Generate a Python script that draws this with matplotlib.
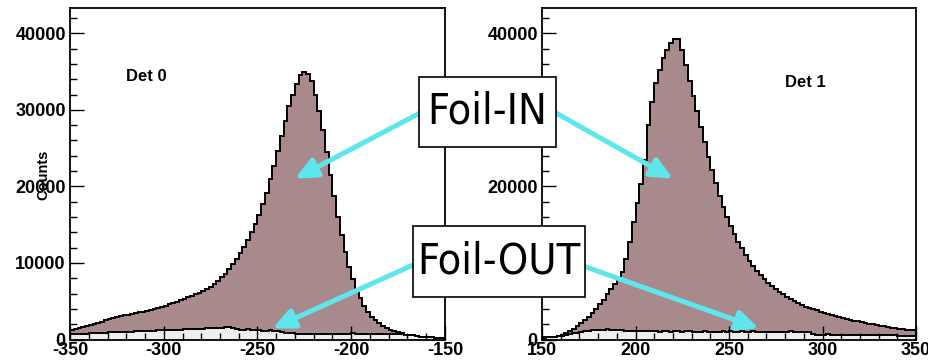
import numpy as np
import matplotlib.pyplot as plt
from matplotlib.patches import Rectangle
from matplotlib.ticker import MultipleLocator

# counts per 2-unit bin, Det 0 covers -350..-150, Det 1 covers 150..350
det0_in = [1300, 1400, 1500, 1650, 1800, 1950, 2050, 2200, 2350, 2500,
           2650, 2800, 2900, 3050, 3150, 3250, 3350, 3450, 3550, 3650,
           3750, 3850, 4000, 4150, 4250, 4400, 4600, 4750, 4950, 5150,
           5300, 5500, 5700, 5900, 6100, 6350, 6600, 6900, 7250, 7650,
           8100, 8600, 9200, 9800, 10500, 11300, 12100, 13000, 14000, 15100,
           16300, 17700, 19200, 20900, 22700, 24600, 26600, 28600, 30500, 32000,
           33400, 34500, 35000, 34700, 33700, 32000, 29800, 27300, 24500, 21500,
           18700, 16000, 13600, 11400, 9500, 7900, 6600, 5400, 4400, 3600,
           3000, 2500, 2100, 1800, 1500, 1300, 1100, 950, 800, 650,
           550, 450, 400, 350, 300, 280, 260, 240, 220, 200]
det0_out = [700, 720, 740, 760, 780, 800, 820, 850, 870, 900,
            920, 940, 960, 980, 1000, 1020, 1040, 1060, 1080, 1100,
            1120, 1140, 1160, 1180, 1200, 1220, 1240, 1260, 1280, 1300,
            1320, 1340, 1360, 1380, 1400, 1420, 1450, 1480, 1500, 1520,
            1550, 1580, 1600, 1500, 1400, 1300, 1250, 1350, 1250, 1200,
            1250, 1150, 1100, 1200, 1100, 1050, 950, 900, 850, 800,
            750, 750, 750, 750, 750, 750, 750, 750, 750, 750,
            750, 720, 780, 730, 700, 800, 720, 700, 750, 720,
            720, 700, 720, 700, 700, 680, 700, 680, 660, 650,
            600, 550, 450, 350, 300, 300, 280, 260, 250, 240]
det1_in = [300, 300, 320, 350, 450, 600, 850, 1100, 1400, 1750,
           2100, 2500, 2950, 3450, 4000, 4600, 5200, 5900, 6600, 7300,
           8000, 8800, 10500, 12800, 15300, 17800, 20300, 23500, 28000, 31000,
           33500, 35200, 36800, 37800, 38700, 39300, 39300, 37800, 35800, 33700,
           31800, 29800, 27800, 25800, 23900, 22100, 20400, 18800, 17300, 16000,
           14800, 13800, 12800, 11900, 11100, 10300, 9600, 9000, 8400, 7900,
           7400, 7000, 6600, 6200, 5900, 5600, 5300, 5000, 4750, 4500,
           4300, 4100, 3950, 3800, 3650, 3500, 3380, 3250, 3120, 3000,
           2850, 2720, 2600, 2480, 2380, 2280, 2180, 2080, 1980, 1880,
           1800, 1720, 1640, 1560, 1480, 1420, 1360, 1300, 1250, 1200]
det1_out = [250, 280, 300, 350, 400, 500, 600, 700, 800, 900,
            1000, 1100, 1150, 1200, 1250, 1300, 1300, 1320, 1300, 1280,
            1250, 1200, 1150, 1100, 1080, 1050, 1050, 1080, 1050, 1050,
            1050, 1000, 1050, 1050, 1000, 1050, 1050, 1000, 1050, 1050,
            1000, 1000, 1000, 1050, 1000, 1000, 1000, 1000, 1050, 1000,
            1050, 1000, 1000, 1050, 1000, 1000, 1050, 1000, 1000, 1000,
            1000, 1000, 1000, 1000, 1000, 1000, 1050, 1000, 1000, 1000,
            950, 950, 700, 650, 650, 650, 700, 650, 650, 650,
            650, 600, 650, 650, 600, 650, 650, 600, 600, 600,
            600, 550, 550, 550, 550, 500, 500, 500, 500, 500]

det0_range = (-350, -150)
det1_range = (150, 350)
det0_ticks = [-350, -300, -250, -200, -150]
det1_ticks = [150, 200, 250, 300, 350]

FILL = '#a88a8d'
OUT_FILL = '#efeded'
CYAN = '#5fe6ec'

plt.rcParams['font.family'] = ['Liberation Sans', 'DejaVu Sans']
plt.rcParams['font.weight'] = 'bold'
plt.rcParams['axes.unicode_minus'] = False

W, H = 929, 362
fig = plt.figure(figsize=(W / 100, H / 100), dpi=100)


def px_rect(x0, y0, x1, y1):
    return [x0 / W, 1 - y1 / H, (x1 - x0) / W, (y1 - y0) / H]


def draw_det(ax, vals_in, vals_out, xr, ticks, ymajor, name, name_xy):
    edges = np.linspace(xr[0], xr[1], len(vals_in) + 1)
    ax.stairs(vals_in, edges, fill=True, color=FILL)
    ax.stairs(vals_in, edges, color='black', lw=1.4)
    ax.stairs(vals_out, edges, fill=True, color=OUT_FILL)
    ax.stairs(vals_out, edges, color='black', lw=1.4)
    ax.set_xlim(xr)
    ax.set_ylim(0, 43300)
    ax.set_xticks(ticks)
    ax.xaxis.set_minor_locator(MultipleLocator(10))
    ax.yaxis.set_major_locator(MultipleLocator(ymajor))
    ax.yaxis.set_minor_locator(MultipleLocator(2000))
    ax.tick_params(which='major', direction='in', length=10, width=1,
                   labelsize=13, top=False, right=False)
    ax.tick_params(which='minor', direction='in', length=5, width=1,
                   top=False, right=False)
    ax.tick_params(axis='x', pad=2)
    ax.tick_params(axis='y', pad=3)
    for s in ax.spines.values():
        s.set_linewidth(1.3)
    ax.text(name_xy[0], name_xy[1], name, fontsize=12, va='top')


ax0 = fig.add_axes(px_rect(70, 8, 445, 339.5))
ax1 = fig.add_axes(px_rect(542, 8, 916, 339.5))
draw_det(ax0, det0_in, det0_out, det0_range, det0_ticks, 10000, 'Det 0', (-320, 35300))
draw_det(ax1, det1_in, det1_out, det1_range, det1_ticks, 20000, 'Det 1', (280, 34600))

fig.text(43 / W, 1 - 150 / H, 'Counts', rotation=90, ha='center', va='top', fontsize=10.5)

arrow = dict(arrowstyle='-|>,head_length=1.3,head_width=0.6', lw=3.6, color=CYAN,
             mutation_scale=10, shrinkA=0, shrinkB=0)
ax0.annotate('', xy=(-230, 21000), xytext=(420, H - 113), textcoords='figure pixels',
             arrowprops=arrow, annotation_clip=False)
ax1.annotate('', xy=(220, 21000), xytext=(556, H - 113), textcoords='figure pixels',
             arrowprops=arrow, annotation_clip=False)
ax0.annotate('', xy=(-242, 1450), xytext=(413, H - 265), textcoords='figure pixels',
             arrowprops=arrow, annotation_clip=False)
ax1.annotate('', xy=(266, 1450), xytext=(586, H - 267), textcoords='figure pixels',
             arrowprops=arrow, annotation_clip=False)

# label boxes
for (x0, y0, x1, y1), label in [((419, 77, 556, 147), 'Foil-IN'),
                                ((413, 226, 585, 297), 'Foil-OUT')]:
    fig.add_artist(Rectangle((x0 / W, 1 - y1 / H), (x1 - x0) / W, (y1 - y0) / H,
                             transform=fig.transFigure, fc='white', ec='black', lw=1.2))
    fig.text((x0 + x1) / 2 / W, 1 - (y0 + y1) / 2 / H, label, ha='center', va='center',
             fontsize=31, fontweight='normal', fontstretch='condensed',
             family=['Liberation Sans Narrow', 'DejaVu Sans'], zorder=5)

fig.savefig('out.png', dpi=100)
